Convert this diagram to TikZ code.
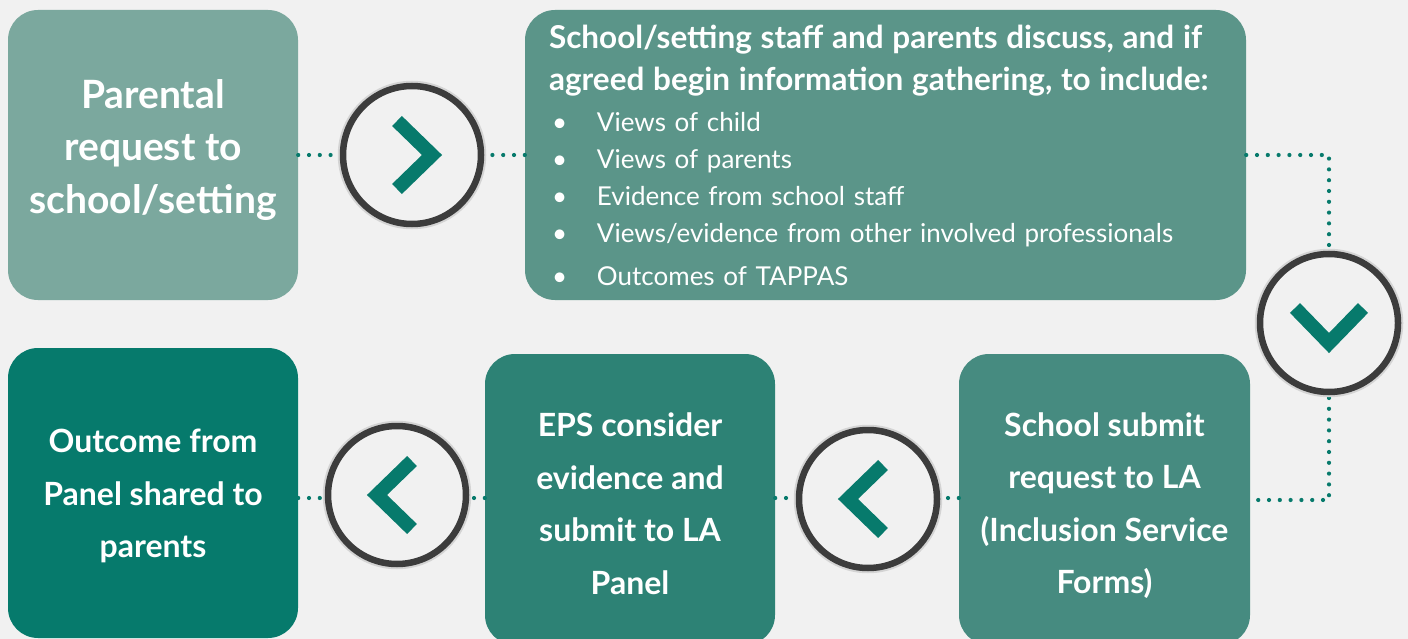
\documentclass[tikz,border=0pt]{standalone}
\usepackage{fontspec}
\setmainfont{Lato}
\usetikzlibrary{calc}
\definecolor{bgc}{HTML}{F1F1F1}
\definecolor{boxA}{HTML}{7BA89E}
\definecolor{boxB}{HTML}{5B9589}
\definecolor{boxE}{HTML}{468B80}
\definecolor{boxD}{HTML}{2D8275}
\definecolor{boxF}{HTML}{067A6C}
\definecolor{tealc}{HTML}{077A6C}
\definecolor{ringc}{HTML}{3C3C3C}
\tikzset{
  flow schemes/.style = {
    x = 1pt, y = -1pt,
    % Блоки
    blk/.style     = {rounded corners=30pt, text=white, align=center, inner sep=0pt,
                      font=\bfseries\fontsize{32}{52.5}\selectfont},
    blk big/.style = {blk, font=\bfseries\fontsize{39}{52.5}\selectfont},
    % Кольца со стрелками
    ring/.style    = {circle, minimum size=138pt, inner sep=0pt, draw=ringc, line width=6.5pt,
                      fill=bgc, preaction={draw=black!17, line width=10.5pt}},
    chevron/.style = {tealc, line width=14pt, line join=miter, line cap=butt},
    % Линии
    dot line/.style = {tealc, line width=4.2pt, line cap=round, dash pattern=on 0pt off 10.8pt},
  }
}
\begin{document}
\begin{tikzpicture}[flow schemes]
\def\stepring(#1)<#2> at (#3);{
  \node[ring] (#1) at (#3) {};
  \draw[chevron, shift={(#1.center)}, rotate=#2] (-15,-34) -- (20,0) -- (-15,34); }
\def\bullitem#1{\makebox[48pt][l]{\hspace{3pt}\textbullet}#1}
\def\up#1{\rule{0pt}{#1}} % высокий первый ряд -> текст ниже

\useasboundingbox (0,0) rectangle (1408,639);
\clip (0,0) rectangle (1408,639);
\fill[bgc] (0,0) rectangle (1408,639);

%---------------------------------------------
\coordinate (turnU) at (1329,155);
\coordinate (turnD) at (1329,500);

\node[blk big, fill=boxA, minimum width=290pt, minimum height=290pt] (req) at (153,155)
  {Parental\\request to\\school/setting\rule[-17pt]{0pt}{0pt}};
\node[blk, fill=boxB, minimum width=721pt, minimum height=290pt, text width=673pt,
  align=left, inner xsep=24pt, font=\fontsize{26}{37}\selectfont] (gather) at (885.5,155)
  {{\bfseries\fontsize{31.5}{42}\selectfont School/setting staff and parents discuss, and if\\[5pt]
   agreed begin information gathering, to include:}\\[4pt]
   \bullitem{Views of child}\\
   \bullitem{Views of parents}\\
   \bullitem{Evidence from school staff}\\
   \bullitem{Views/evidence from other involved professionals}\\[6pt]
   \bullitem{Outcomes of TAPPAS}};

\node[blk, fill=boxE, minimum width=291pt, minimum height=291pt] (submit) at (1104.5,499.5)
  {\up{36pt}School submit\\request to LA\\(Inclusion Service\\Forms)};
\node[blk, fill=boxD, minimum width=290pt, minimum height=291pt] (eps) at (630,499.5)
  {\up{32pt}EPS consider\\evidence and\\submit to LA\\Panel};
\node[blk, fill=boxF, minimum width=290pt, minimum height=290pt] (outc) at (153,493)
  {\up{30pt}Outcome from\\Panel shared to\\parents};

%---------------------------------------------
\draw[dot line] (req.east) -- (req.east -| 341,0);
\draw[dot line] (gather.west) -- (gather.west -| 484,0);
\draw[dot line] (gather.east) -- (turnU) -- (1329,250);
\draw[dot line] (1329,398) -- (turnD) -- (submit.east |- turnD);
\draw[dot line] (outc.east |- 0,498) -- (325,498);
\draw[dot line] (eps.west |- 0,498) -- (469,498);
\draw[dot line] (eps.east |- 0,498) -- (796,498);
\draw[dot line] (submit.west |- 0,498) -- (941,498);

\stepring (r1)<0>   at (412,155);
\stepring (r2)<-90> at (1329,323);
\stepring (r3)<180> at (397,495);
\stepring (r4)<180> at (868,499);

\end{tikzpicture}
\end{document}
